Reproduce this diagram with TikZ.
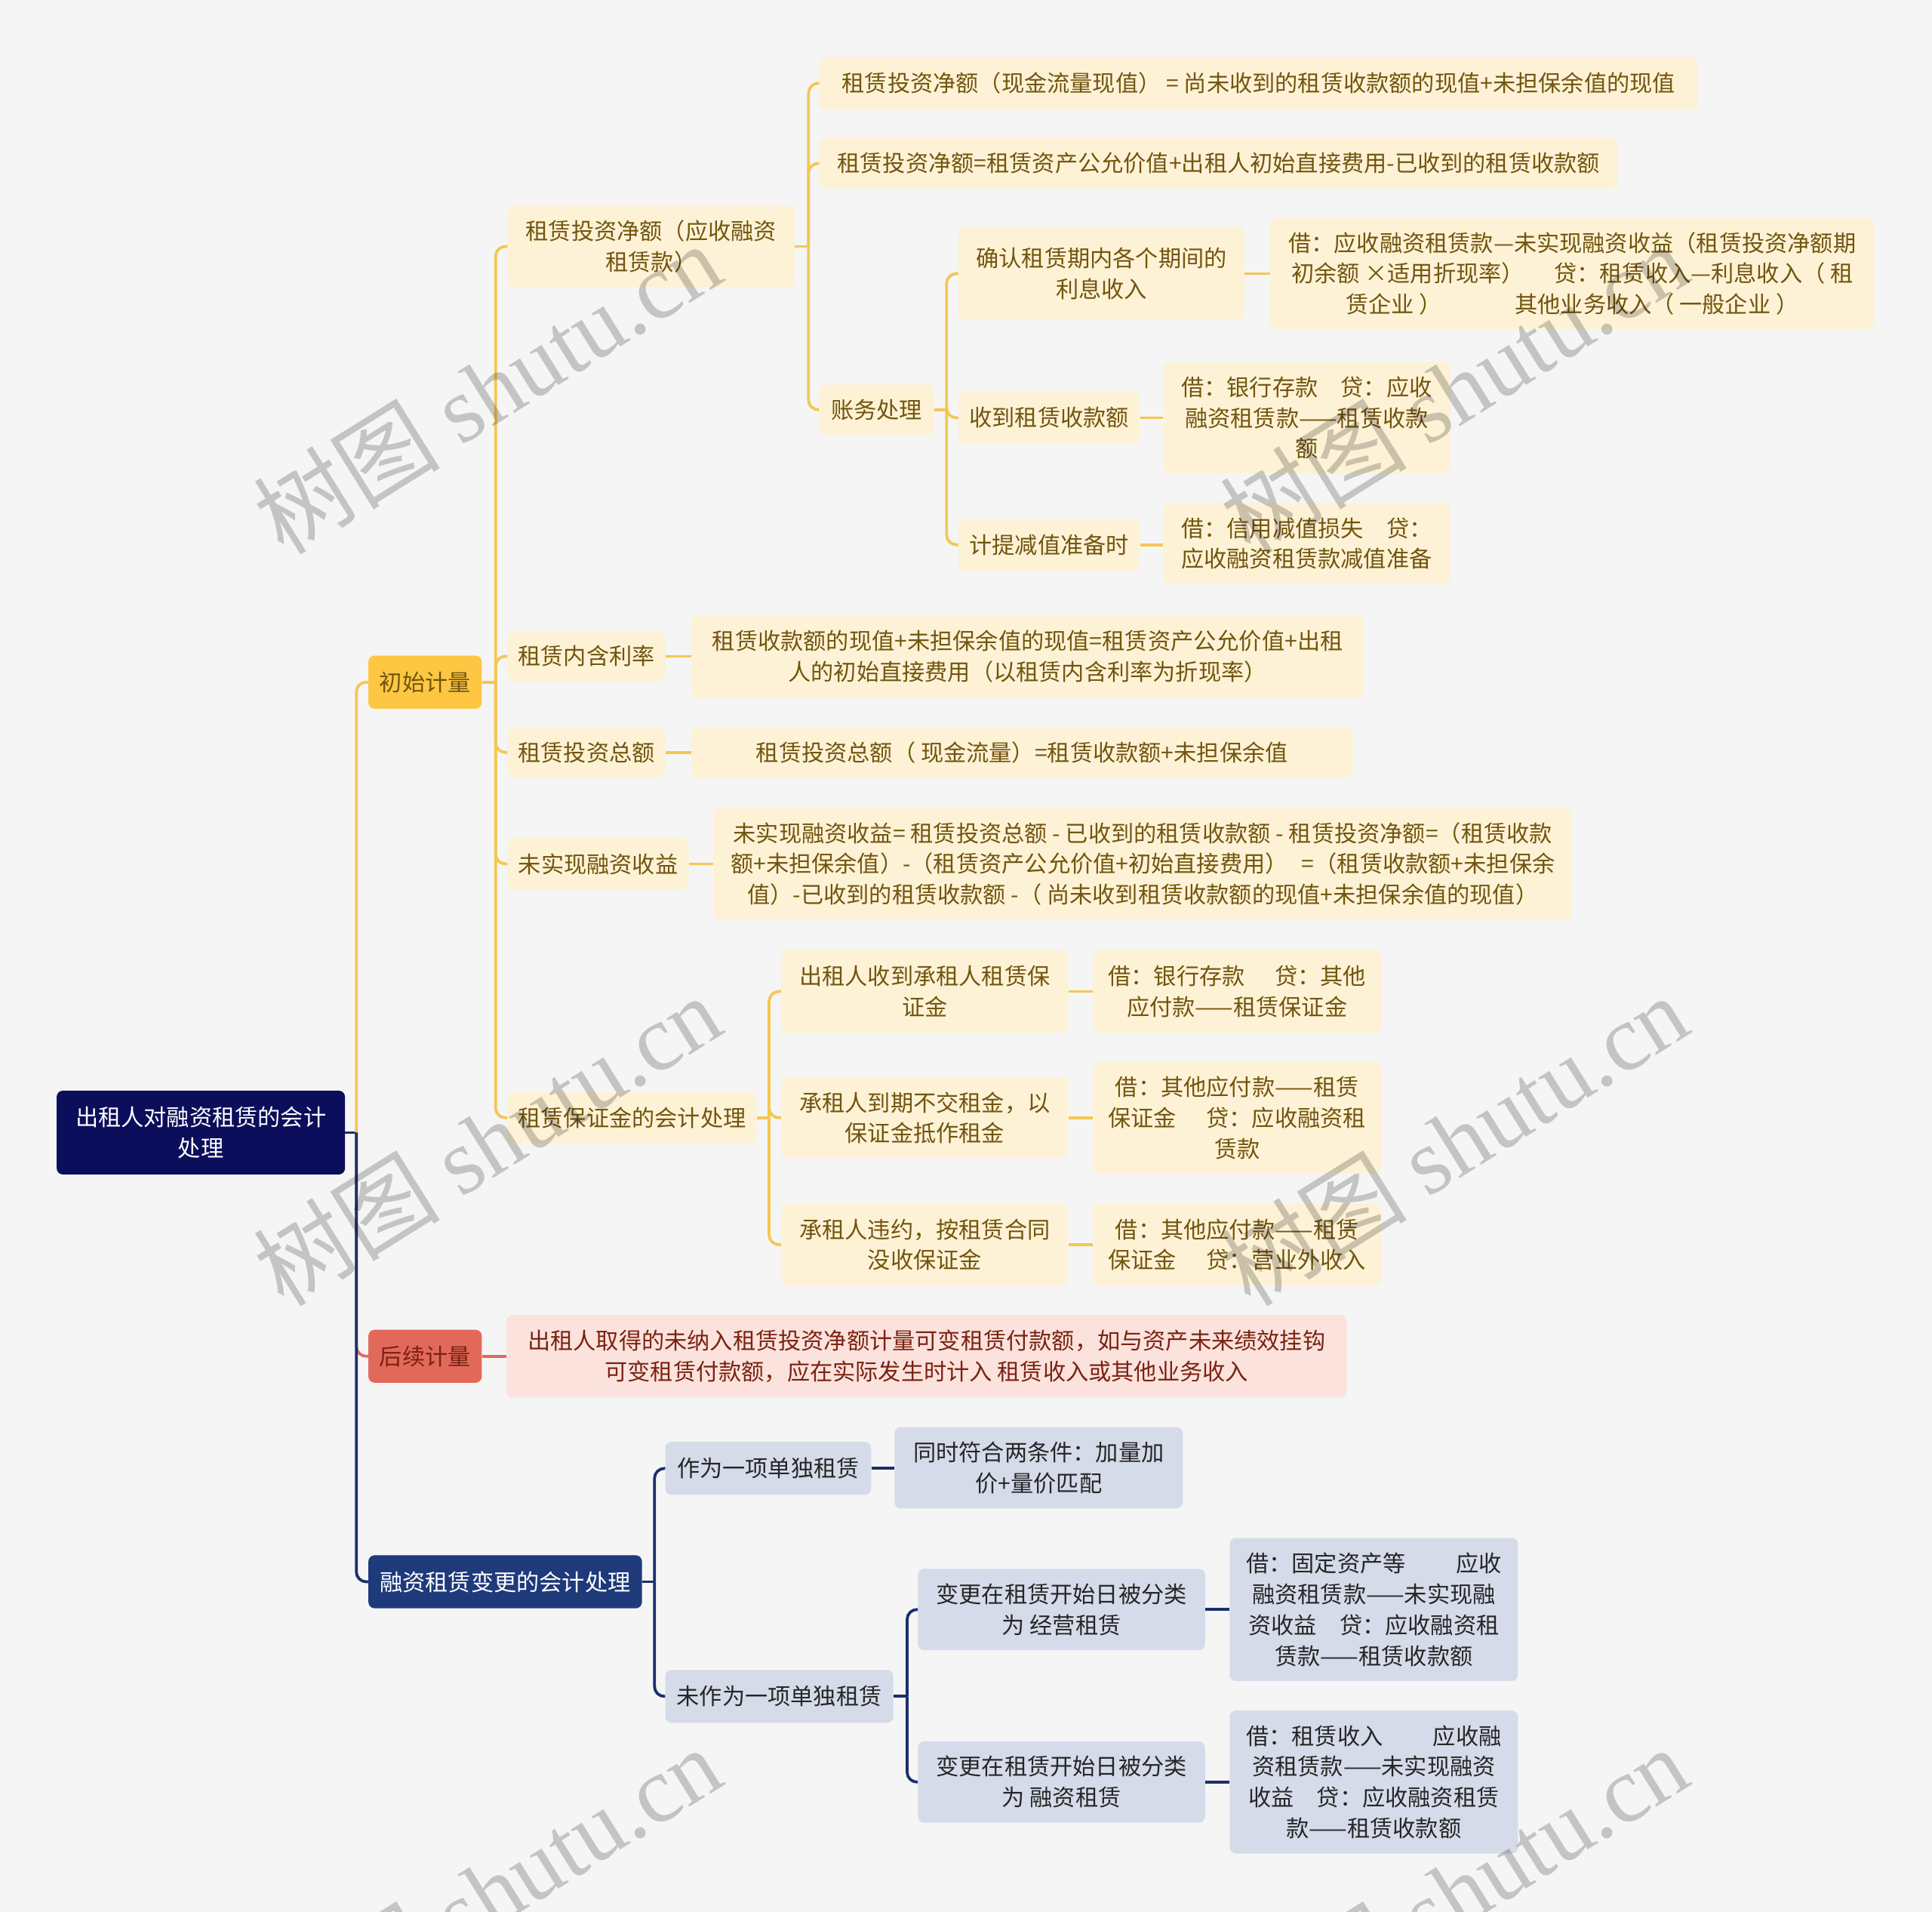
\documentclass[tikz,border=0pt]{standalone}
\usepackage{fontspec}
\setmainfont{Noto Sans CJK SC}
\newfontfamily\wmlat{Liberation Serif}
\usetikzlibrary{calc}
\definecolor{bgc}{HTML}{F5F5F5}
\definecolor{yfill}{HTML}{FEF2D6}
\definecolor{ytext}{HTML}{72550E}
\definecolor{ygold}{HTML}{FDC743}
\definecolor{yline}{HTML}{F4C753}
\definecolor{rootc}{HTML}{0B0E5A}
\definecolor{rfill}{HTML}{E2695A}
\definecolor{rpink}{HTML}{FBE2DC}
\definecolor{rtext}{HTML}{7A2212}
\definecolor{rline}{HTML}{E2695A}
\definecolor{nfill}{HTML}{1E3A7B}
\definecolor{nlight}{HTML}{D5DBE9}
\definecolor{ntext}{HTML}{262626}
\definecolor{nline}{HTML}{1C2F6C}
\newcommand\bx[7]{\node[#6, minimum width={#4-#2}, minimum height={#5-#3}] (#1) at ({(#2+#4)/2},{(#3+#5)/2}) {#7};}
\newcommand\stub[3]{\draw[#1] (#2.east) -- ++(#3,0);}
\newcommand\br[4]{\draw[#1, rounded corners=8] ($(#2.east)+(#3,0)$) |- (#4.west);}
\newcommand\direct[3]{\draw[#1] (#2.east) -- (#2.east -| #3.west);}
\tikzset{
  boxbase/.style={rounded corners=5, inner sep=0pt, align=center, font=\fontsize{18.5}{25}\selectfont},
  yb/.style={boxbase, fill=yfill, text=ytext},
  ygb/.style={boxbase, fill=ygold, text=ytext},
  rootb/.style={boxbase, fill=rootc, text=white},
  rb/.style={boxbase, fill=rfill, text=rtext},
  rpb/.style={boxbase, fill=rpink, text=rtext},
  nb/.style={boxbase, fill=nfill, text=white},
  nlb/.style={boxbase, fill=nlight, text=ntext},
  yl/.style={draw=yline, line width=2.3pt},
  rl/.style={draw=rline, line width=2.3pt},
  nl/.style={draw=nline, line width=2.3pt},
  wm/.style={rotate=32, text=black, opacity=0.2, font=\fontsize{76}{80}\selectfont, inner sep=0pt}
}
\begin{document}
\begin{tikzpicture}[x=1pt,y=-1pt]
\fill[bgc] (0,0) rectangle (1568,1551.4);
\useasboundingbox (0,0) rectangle (1568,1551.4);

% root
\bx{root}{46}{885}{280}{953}{rootb}{出租人对融资租赁的会计\\处理}
% level 1
\bx{init}{299}{532}{391}{575}{ygb}{初始计量}
\bx{later}{299}{1079}{391}{1122}{rb}{后续计量}
\bx{chg}{299}{1262}{521}{1305}{nb}{融资租赁变更的会计处理}

% level 2 (initial)
\bx{net}{412}{167}{645}{233}{yb}{租赁投资净额（应收融资\\租赁款）}
\bx{rate}{412}{512}{540}{553}{yb}{租赁内含利率}
\bx{gross}{412}{590}{540}{631}{yb}{租赁投资总额}
\bx{unreal}{412}{680}{559}{722}{yb}{未实现融资收益}
\bx{dep}{412}{886}{614}{928}{yb}{租赁保证金的会计处理}

% level 3 (net)
\bx{net1}{665}{46}{1378}{89}{yb}{租赁投资净额（现金流量现值） = 尚未收到的租赁收款额的现值+未担保余值的现值}
\bx{net2}{665}{112}{1313}{153}{yb}{租赁投资净额=租赁资产公允价值+出租人初始直接费用-已收到的租赁收款额}
\bx{acct}{665}{312}{758}{353}{yb}{账务处理}

% level 4 (acct)
\bx{int}{778}{184}{1010}{260}{yb}{确认租赁期内各个期间的\\利息收入}
\bx{recv}{778}{318}{925}{360}{yb}{收到租赁收款额}
\bx{impair}{778}{421}{925}{463}{yb}{计提减值准备时}

% level 5
\bx{intE}{1031}{177}{1521}{267}{yb}{借：应收融资租赁款—未实现融资收益（租赁投资净额期\\初余额 ×适用折现率）\hspace{1.3em}贷：租赁收入—利息收入（ 租\\赁企业 ）\hspace{3.2em}其他业务收入（ 一般企业 ）}
\bx{recvE}{944}{294}{1177}{384}{yb}{借：银行存款\hspace{1em}贷：应收\\融资租赁款——租赁收款\\额}
\bx{impE}{944}{408}{1177}{474}{yb}{借：信用减值损失\hspace{1em}贷：\\应收融资租赁款减值准备}

\bx{rateE}{561}{499}{1107}{566}{yb}{租赁收款额的现值+未担保余值的现值=租赁资产公允价值+出租\\人的初始直接费用（以租赁内含利率为折现率）}
\bx{grossE}{561}{590}{1098}{631}{yb}{租赁投资总额（ 现金流量）=租赁收款额+未担保余值}
\bx{unrealE}{579}{656}{1276}{746}{yb}{未实现融资收益= 租赁投资总额 - 已收到的租赁收款额 - 租赁投资净额=（租赁收款\\额+未担保余值）-（租赁资产公允价值+初始直接费用）\hspace{0.6em}=（租赁收款额+未担保余\\值）-已收到的租赁收款额 -（ 尚未收到租赁收款额的现值+未担保余值的现值）}

% deposit
\bx{dep1}{634}{771}{867}{838}{yb}{出租人收到承租人租赁保\\证金}
\bx{dep2}{634}{874}{867}{940}{yb}{承租人到期不交租金，以\\保证金抵作租金}
\bx{dep3}{634}{977}{867}{1043}{yb}{承租人违约，按租赁合同\\没收保证金}
\bx{dep1E}{887}{771}{1121}{838}{yb}{借：银行存款\hspace{1.3em}贷：其他\\应付款——租赁保证金}
\bx{dep2E}{887}{862}{1121}{952}{yb}{借：其他应付款——租赁\\保证金\hspace{1.3em}贷：应收融资租\\赁款}
\bx{dep3E}{887}{977}{1121}{1043}{yb}{借：其他应付款——租赁\\保证金\hspace{1.3em}贷：营业外收入}

% later
\bx{laterE}{411}{1067}{1093}{1134}{rpb}{出租人取得的未纳入租赁投资净额计量可变租赁付款额，如与资产未来绩效挂钩\\可变租赁付款额，应在实际发生时计入 租赁收入或其他业务收入}

% change
\bx{sep}{540}{1170}{707}{1213}{nlb}{作为一项单独租赁}
\bx{sepE}{726}{1158}{960}{1224}{nlb}{同时符合两条件：加量加\\价+量价匹配}
\bx{nsep}{540}{1355}{725}{1398}{nlb}{未作为一项单独租赁}
\bx{op}{745}{1273}{978}{1339}{nlb}{变更在租赁开始日被分类\\为 经营租赁}
\bx{fin}{745}{1413}{978}{1479}{nlb}{变更在租赁开始日被分类\\为 融资租赁}
\bx{opE}{998}{1248}{1232}{1364}{nlb}{借：固定资产等\hspace{2.2em}应收\\融资租赁款——未实现融\\资收益\hspace{1em}贷：应收融资租\\赁款——租赁收款额}
\bx{finE}{998}{1388}{1232}{1504}{nlb}{借：租赁收入\hspace{2.2em}应收融\\资租赁款——未实现融资\\收益\hspace{1em}贷：应收融资租赁\\款——租赁收款额}

% connectors: root
\stub{nl}{root}{9}
\br{yl}{root}{9}{init}
\br{rl}{root}{9}{later}
\br{nl}{root}{9}{chg}
% initial
\stub{yl}{init}{11}
\br{yl}{init}{11}{net}
\br{yl}{init}{11}{rate}
\br{yl}{init}{11}{gross}
\br{yl}{init}{11}{unreal}
\br{yl}{init}{11}{dep}
% net
\stub{yl}{net}{11}
\br{yl}{net}{11}{net1}
\br{yl}{net}{11}{net2}
\br{yl}{net}{11}{acct}
% acct
\stub{yl}{acct}{10}
\br{yl}{acct}{10}{int}
\br{yl}{acct}{10}{recv}
\br{yl}{acct}{10}{impair}
\direct{yl}{int}{intE}
\direct{yl}{recv}{recvE}
\direct{yl}{impair}{impE}
\direct{yl}{rate}{rateE}
\direct{yl}{gross}{grossE}
\direct{yl}{unreal}{unrealE}
% deposit
\stub{yl}{dep}{10}
\br{yl}{dep}{10}{dep1}
\br{yl}{dep}{10}{dep2}
\br{yl}{dep}{10}{dep3}
\direct{yl}{dep1}{dep1E}
\direct{yl}{dep2}{dep2E}
\direct{yl}{dep3}{dep3E}
% later
\direct{rl}{later}{laterE}
% change
\stub{nl}{chg}{10}
\br{nl}{chg}{10}{sep}
\br{nl}{chg}{10}{nsep}
\direct{nl}{sep}{sepE}
\stub{nl}{nsep}{11}
\br{nl}{nsep}{11}{op}
\br{nl}{nsep}{11}{fin}
\direct{nl}{op}{opE}
\direct{nl}{fin}{finE}

% watermarks
\node[wm] (wm1) at (395,315) {树图 {\wmlat shutu.cn}};
\node[wm] (wm2) at (1180,315) {树图 {\wmlat shutu.cn}};
\node[wm] (wm3) at (395,925) {树图 {\wmlat shutu.cn}};
\node[wm] (wm4) at (1180,925) {树图 {\wmlat shutu.cn}};
\node[wm] (wm5) at (395,1535) {树图 {\wmlat shutu.cn}};
\node[wm] (wm6) at (1180,1535) {树图 {\wmlat shutu.cn}};
\end{tikzpicture}
\end{document}
